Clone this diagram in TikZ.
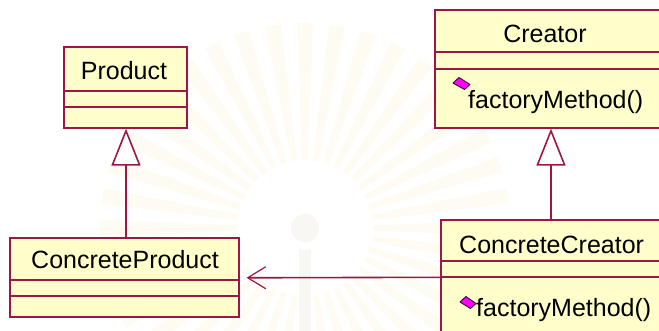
\documentclass[tikz,border=0pt]{standalone}
\usepackage{fontspec}
\setmainfont{Liberation Sans}
\usetikzlibrary{arrows.meta,calc}

\definecolor{umlline}{RGB}{158,22,72}
\definecolor{umlfill}{RGB}{255,255,204}
\definecolor{raycol}{RGB}{254,251,242}
\definecolor{hubcol}{RGB}{249,247,243}
\definecolor{opmark}{RGB}{255,0,255}
\definecolor{opedge}{RGB}{60,0,60}

\begin{document}
\begin{tikzpicture}[x=1pt,y=-1pt,
  classbox/.style={draw=umlline, fill=umlfill, line width=1.6pt, rectangle,
    inner sep=0pt, anchor=north west},
  divider/.style={draw=umlline, line width=1.6pt},
  classname/.style={font=\fontsize{25}{30}\selectfont, inner sep=0pt, anchor=base},
  opname/.style={font=\fontsize{25}{30}\selectfont, inner sep=0pt, anchor=base west},
  opicon/.style={fill=opmark, draw=opedge, line width=0.9pt, line join=round},
  generalization/.style={draw=umlline, line width=1.6pt,
    -{Triangle[open, length=37pt, width=29pt, fill=white]}},
  association/.style={draw=umlline, line width=1.6pt,
    -{Straight Barb[length=18pt, width=22pt, line width=1.2pt]}}
]
\clip (0,0) rectangle (659,330);
\fill[white] (0,0) rectangle (659,330);

% faint sunburst emblem in the background
\begin{scope}[shift={(305,228)}]
  \foreach \a in {0,9,...,351}
    \fill[raycol] (\a-2.2:68) -- (\a-2.2:205) -- (\a+2.2:205) -- (\a+2.2:68) -- cycle;
  \fill[hubcol] (0,0) circle (14);
  \fill[hubcol] (-6,22) rectangle (6,110);
\end{scope}

% class boxes
\node[classbox, minimum width=123pt, minimum height=81pt] (product) at (63,46) {};
\node[classbox, minimum width=246pt, minimum height=118pt] (creator) at (434,9) {};
\node[classbox, minimum width=229pt, minimum height=79pt] (cproduct) at (9,237) {};
\node[classbox, minimum width=240pt, minimum height=126pt] (ccreator) at (440,219) {};

% compartment dividers
\draw[divider] ($(product.north west)+(0,45)$) -- ($(product.north east)+(0,45)$);
\draw[divider] ($(product.north west)+(0,61)$) -- ($(product.north east)+(0,61)$);
\draw[divider] ($(creator.north west)+(0,43)$) -- ($(creator.north east)+(0,43)$);
\draw[divider] ($(creator.north west)+(0,60)$) -- ($(creator.north east)+(0,60)$);
\draw[divider] ($(cproduct.north west)+(0,43)$) -- ($(cproduct.north east)+(0,43)$);
\draw[divider] ($(cproduct.north west)+(0,59)$) -- ($(cproduct.north east)+(0,59)$);
\draw[divider] ($(ccreator.north west)+(0,42)$) -- ($(ccreator.north east)+(0,42)$);
\draw[divider] ($(ccreator.north west)+(0,58)$) -- ($(ccreator.north east)+(0,58)$);

% class names
\node[classname] (productname) at (124,79) {Product};
\node[classname] (creatorname) at (545,42) {Creator};
\node[classname] (cproductname) at (125,268) {ConcreteProduct};
\node[classname, anchor=base west] (ccreatorname) at (459,253) {ConcreteCreator};

% operations
\filldraw[opicon] (453,83) -- (459,77.5) -- (470,84.5) -- (464.5,89.5) -- cycle;
\node[opname] (creatorop) at (468,108) {factoryMethod()};
\filldraw[opicon] (460,302) -- (466,296.5) -- (476,303.5) -- (470.5,308.5) -- cycle;
\node[opname] (ccreatorop) at (476,316) {factoryMethod()};

% relationships
\coordinate (prodx) at (126,0);
\coordinate (creatx) at (551,0);
\draw[generalization] (cproduct.north -| prodx) -- (product.south -| prodx);
\draw[generalization] (ccreator.north -| creatx) -- (creator.south -| creatx);
\draw[association, shorten >=7pt] (ccreator.west |- cproduct.east) -- ($(cproduct.east)+(0,0.5)$);
\end{tikzpicture}
\end{document}
